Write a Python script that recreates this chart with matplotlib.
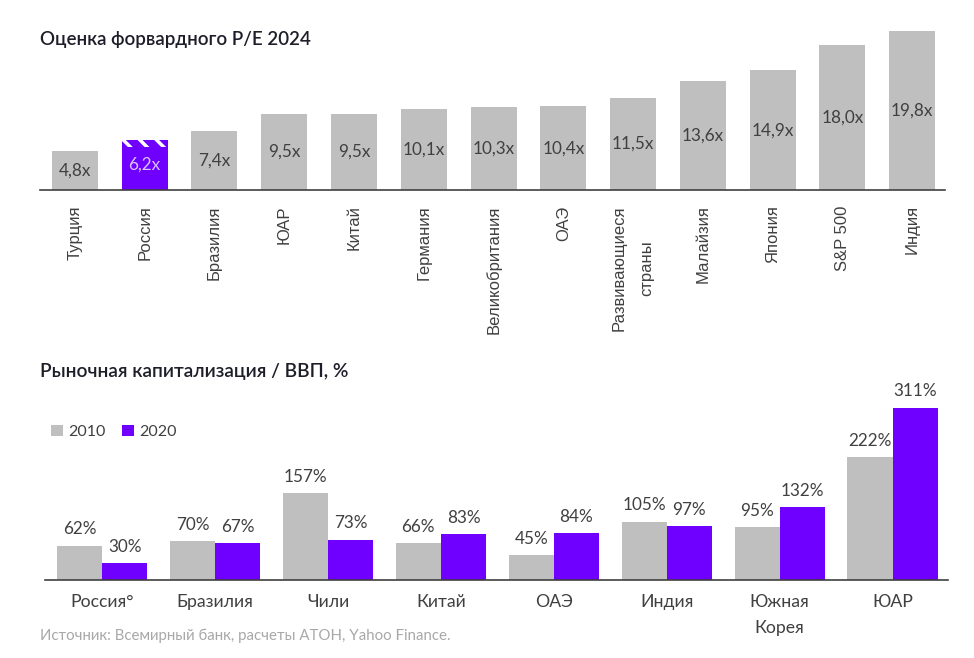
import matplotlib
matplotlib.use("Agg")
import matplotlib.pyplot as plt
import numpy as np

plt.rcParams['font.family'] = ['Lato', 'DejaVu Sans']
plt.rcParams['hatch.linewidth'] = 2.5

# ---- Data: top chart ----
pe_categories = ["Турция", "Россия", "Бразилия", "ЮАР", "Китай", "Германия",
                 "Великобритания", "ОАЭ", "Развивающиеся\nстраны", "Малайзия",
                 "Япония", "S&P 500", "Индия"]
pe_values = [4.8, 6.2, 7.4, 9.5, 9.5, 10.1, 10.3, 10.4, 11.5, 13.6, 14.9, 18.0, 19.8]
pe_labels = ["4,8x", "6,2x", "7,4x", "9,5x", "9,5x", "10,1x", "10,3x", "10,4x",
             "11,5x", "13,6x", "14,9x", "18,0x", "19,8x"]
highlight = "Россия"

# ---- Data: bottom chart ----
cap_categories = ["Россия°", "Бразилия", "Чили", "Китай", "ОАЭ", "Индия",
                  "Южная\nКорея", "ЮАР"]
cap_2010 = [62, 70, 157, 66, 45, 105, 95, 222]
cap_2020 = [30, 67, 73, 83, 84, 97, 132, 311]
series_names = ["2010", "2020"]

GRAY = "#BFBFBF"
PURPLE = "#6F00FF"
TEXT = "#404040"
DARK = "#1E1E2A"

W, H = 974, 658
fig = plt.figure(figsize=(W / 100, H / 100), dpi=100)

def px_axes(left, right, top, bottom):
    return fig.add_axes([left / W, 1 - bottom / H, (right - left) / W, (bottom - top) / H])

# ---------- Top chart ----------
ax1 = px_axes(40, 945, 25, 190)
x1 = np.arange(len(pe_categories))
for i, (cat, v, lab) in enumerate(zip(pe_categories, pe_values, pe_labels)):
    if cat == highlight:
        band = 0.85
        ax1.bar(i, v - band, width=0.66, color=PURPLE, linewidth=0)
        ax1.bar(i, band, bottom=v - band, width=0.66, facecolor=PURPLE,
                edgecolor="white", hatch="\\\\", linewidth=0)
        ax1.text(i, v / 2, lab, ha="center", va="center", fontsize=12.3,
                 color="#D9C2FF")
    else:
        ax1.bar(i, v, width=0.66, color=GRAY, linewidth=0)
        ax1.text(i, v / 2, lab, ha="center", va="center", fontsize=12.3,
                 color=TEXT)
ax1.set_xlim(-0.5, 12.47)
ax1.set_ylim(0, 165 / 8.03)
ax1.set_xticks(x1)
ax1.set_xticklabels(pe_categories, rotation=90, ha="center", va="top",
                    fontsize=12, color=TEXT, family=['Liberation Sans', 'DejaVu Sans'],
                    linespacing=2.0)
ax1.tick_params(axis="x", length=0, pad=11)
ax1.set_yticks([])
for s in ["top", "right", "left"]:
    ax1.spines[s].set_visible(False)
ax1.spines["bottom"].set_color("#404040")
ax1.spines["bottom"].set_linewidth(1.2)

fig.text(40 / W, 1 - 40 / H, "Оценка форвардного P/E 2024", ha="left", va="center",
         fontsize=13.5, fontweight="semibold", color=DARK)

# ---------- Bottom chart ----------
ax2 = px_axes(45, 948, 380, 580)
x2 = np.arange(len(cap_categories))
bw = 0.4
b1 = ax2.bar(x2 - bw / 2, cap_2010, width=bw, color=GRAY, linewidth=0, label=series_names[0])
b2 = ax2.bar(x2 + bw / 2, cap_2020, width=bw, color=PURPLE, linewidth=0, label=series_names[1])
for xi, v in zip(x2 - bw / 2, cap_2010):
    ax2.annotate(f"{v}%", (xi, v), xytext=(0, 6), textcoords="offset points",
                 ha="center", va="bottom", fontsize=12.3, color=TEXT)
for xi, v in zip(x2 + bw / 2, cap_2020):
    ax2.annotate(f"{v}%", (xi, v), xytext=(0, 6), textcoords="offset points",
                 ha="center", va="bottom", fontsize=12.3, color=TEXT)
ax2.set_xlim(-0.505, 7.49)
ax2.set_ylim(0, 200 / 0.554)
ax2.set_xticks(x2)
ax2.set_xticklabels(cap_categories, fontsize=12.7, color=TEXT, linespacing=1.75)
ax2.tick_params(axis="x", length=0, pad=10)
ax2.set_yticks([])
for s in ["top", "right", "left"]:
    ax2.spines[s].set_visible(False)
ax2.spines["bottom"].set_color("#404040")
ax2.spines["bottom"].set_linewidth(1.2)

leg = fig.legend(handles=[b1, b2], labels=series_names, loc="center left",
                 bbox_to_anchor=(51 / W, 1 - 432 / H), ncol=2, frameon=False,
                 fontsize=11.5, handlelength=0.75, handleheight=0.75,
                 handletextpad=0.35, columnspacing=1.0, borderpad=0, borderaxespad=0)
for t in leg.get_texts():
    t.set_color(TEXT)

fig.text(40 / W, 1 - 372 / H, "Рыночная капитализация / ВВП, %", ha="left", va="center",
         fontsize=13.8, fontweight="semibold", color=DARK)
fig.text(40 / W, 1 - 636 / H, "Источник: Всемирный банк, расчеты АТОН, Yahoo Finance.",
         ha="left", va="center", fontsize=10.8, color="#A8A8A8")

fig.savefig("out.png", dpi=100)
